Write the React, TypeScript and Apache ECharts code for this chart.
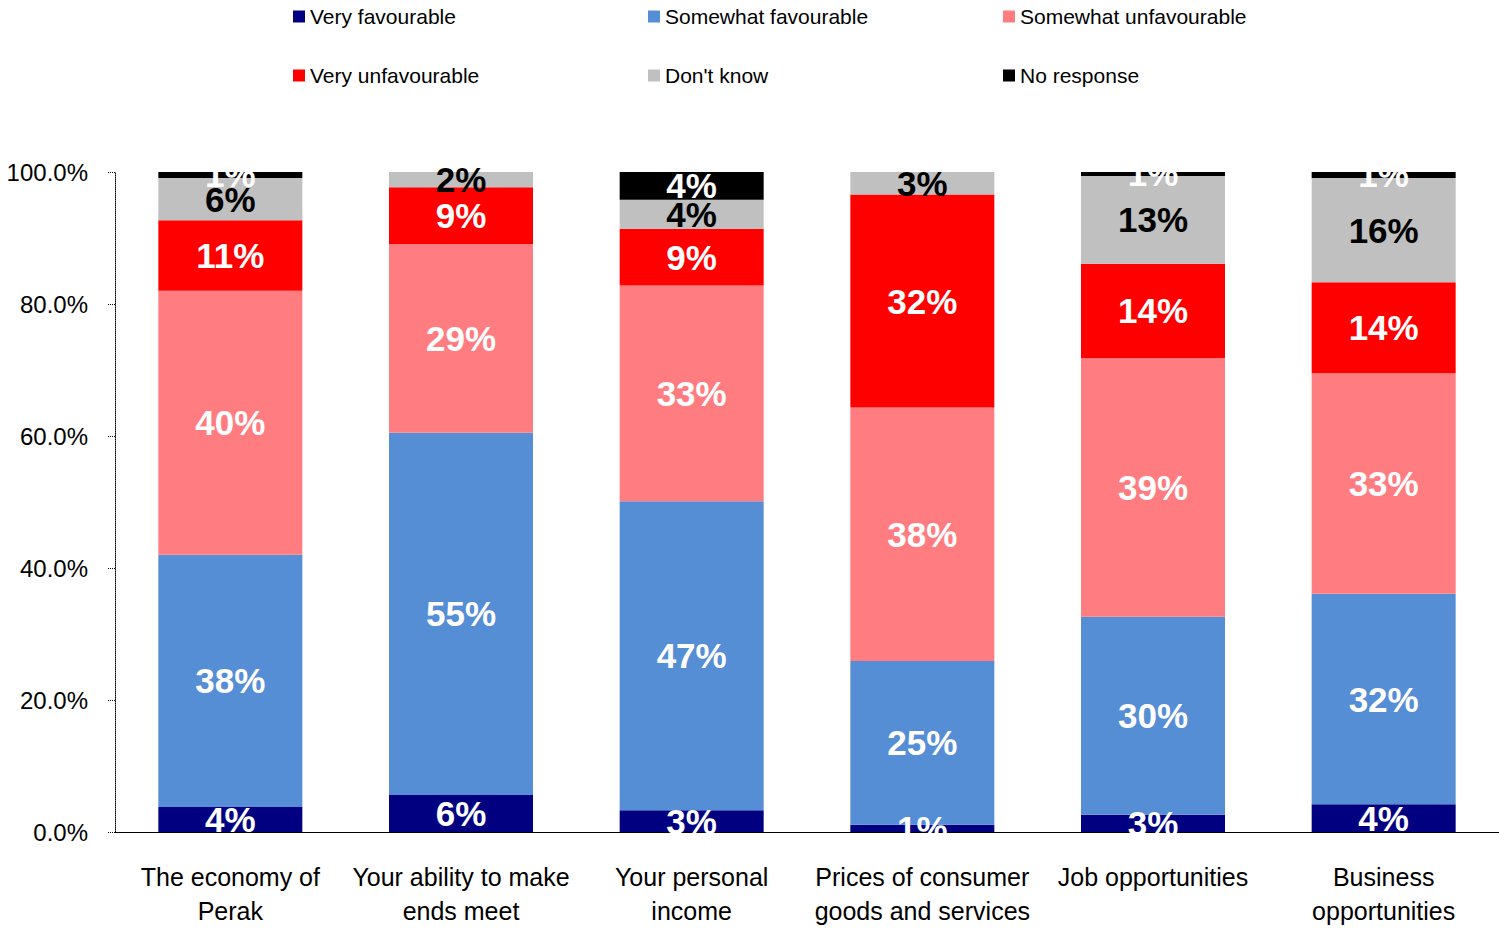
import React, { useEffect, useRef } from "react";
import * as echarts from "echarts";

const categories = [
  "The economy of\nPerak",
  "Your ability to make\nends meet",
  "Your personal\nincome",
  "Prices of consumer\ngoods and services",
  "Job opportunities",
  "Business\nopportunities",
];

const seriesNames = [
  "Very favourable",
  "Somewhat favourable",
  "Somewhat unfavourable",
  "Very unfavourable",
  "Don't know",
  "No response",
];

const veryFavourable = [3.8, 5.6, 3.3, 1.1, 2.6, 4.2];
const somewhatFavourable = [38.2, 54.9, 46.8, 24.8, 30.0, 31.9];
const somewhatUnfavourable = [40.0, 28.6, 32.7, 38.4, 39.2, 33.4];
const veryUnfavourable = [10.7, 8.6, 8.6, 32.3, 14.3, 13.8];
const dontKnow = [6.4, 2.3, 4.4, 3.4, 13.3, 15.8];
const noResponse = [0.9, 0, 4.2, 0, 0.6, 0.9];

const yTicks = [0, 20, 40, 60, 80, 100];

const colors = ["#000080", "#558ED5", "#FF7C80", "#FF0000", "#C0C0C0", "#000000"];
const labelColors = ["#FFFFFF", "#FFFFFF", "#FFFFFF", "#FFFFFF", "#000000", "#FFFFFF"];

const FONT = "'Liberation Sans', Arial, sans-serif";

export default function App() {
  const ref = useRef<HTMLDivElement>(null);

  useEffect(() => {
    if (!ref.current) return;
    const chart = echarts.init(ref.current, undefined, { renderer: "svg" });
    const data = [
      veryFavourable,
      somewhatFavourable,
      somewhatUnfavourable,
      veryUnfavourable,
      dontKnow,
      noResponse,
    ];
    const legendPos = [
      [293, 6],
      [648, 6],
      [1003, 6],
      [293, 65],
      [648, 65],
      [1003, 65],
    ];
    const option: any = {
      animation: false,
      backgroundColor: "#FFFFFF",
      textStyle: { fontFamily: FONT },
      legend: seriesNames.map((n, i) => ({
        data: [n],
        left: legendPos[i][0],
        top: legendPos[i][1],
        padding: 0,
        itemWidth: 12,
        itemHeight: 12,
        itemGap: 6,
        icon: "rect",
        selectedMode: false,
        textStyle: { fontFamily: FONT, fontSize: 21, color: "#000" },
      })),
      grid: { left: 115, width: 1388, top: 172, bottom: 98, containLabel: false },
      xAxis: {
        type: "category",
        data: categories,
        axisLine: { show: true, lineStyle: { color: "#000", width: 1 } },
        axisTick: { show: false },
        axisLabel: {
          fontFamily: FONT,
          fontSize: 25,
          color: "#000",
          lineHeight: 34,
          margin: 28,
          interval: 0,
        },
      },
      yAxis: {
        type: "value",
        min: 0,
        max: 100,
        interval: 20,
        axisLine: { show: true, lineStyle: { color: "#000", width: 1, type: "dotted" } },
        axisTick: { show: true, length: 8, lineStyle: { color: "#000", type: "dotted" } },
        splitLine: { show: false },
        axisLabel: {
          fontFamily: FONT,
          fontSize: 24,
          color: "#000",
          margin: 27,
          formatter: (v: number) => (yTicks.includes(v) ? v.toFixed(1) + "%" : ""),
        },
      },
      series: seriesNames.map((n, i) => ({
        name: n,
        type: "bar",
        stack: "total",
        barWidth: 144,
        itemStyle: { color: colors[i] },
        data: data[i],
        label: {
          show: true,
          position: "inside",
          color: labelColors[i],
          fontFamily: FONT,
          fontSize: 35,
          fontWeight: "bold",
          textBorderWidth: 0,
          formatter: (p: any) => (p.value > 0 ? Math.round(p.value) + "%" : ""),
        },
        labelLayout: { hideOverlap: false },
      })),
    };
    chart.setOption(option);
    return () => chart.dispose();
  }, []);

  return (
    <div
      ref={ref}
      style={{ width: 1499, height: 930, position: "absolute", left: 0, top: 0 }}
    />
  );
}
